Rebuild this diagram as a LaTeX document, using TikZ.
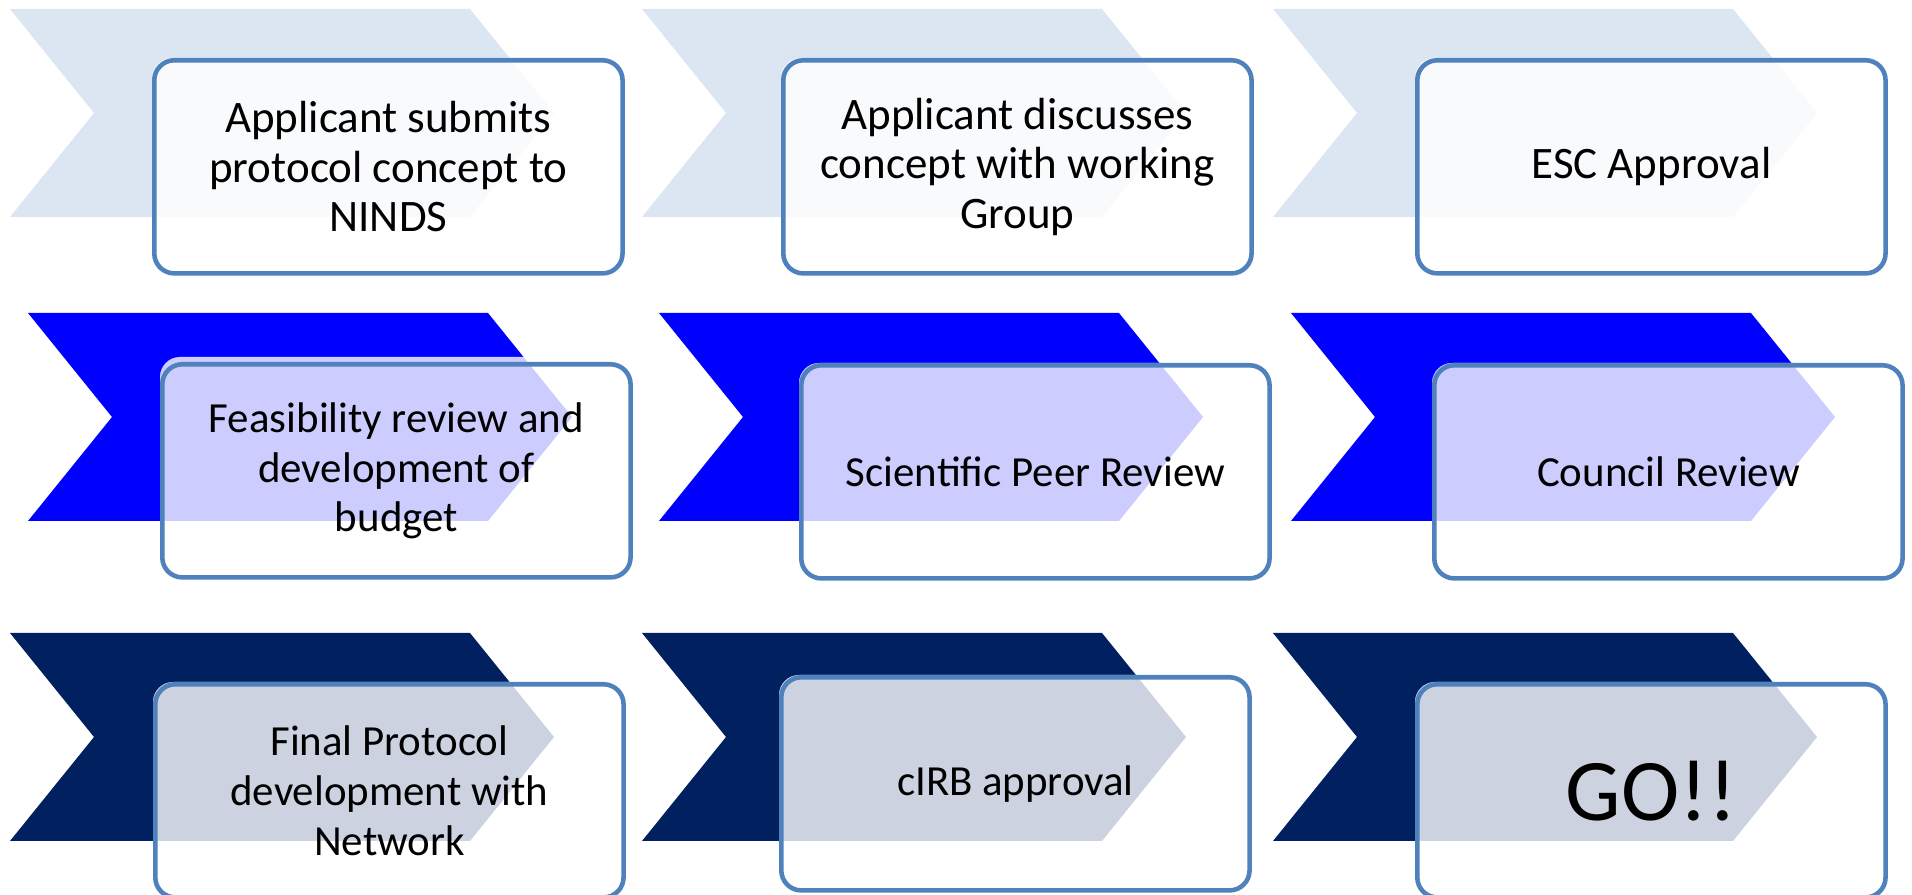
\documentclass[tikz,border=0pt]{standalone}
\usepackage{fontspec}
\setmainfont{Carlito}
\definecolor{chevlight}{HTML}{DCE6F2}
\definecolor{chevblue}{HTML}{0000FF}
\definecolor{chevnavy}{HTML}{002060}
\definecolor{boxline}{HTML}{4F81BD}
\tikzset{
  stepbox/.style={draw=boxline, line width=1.3pt, rounded corners=0.2cm,
    minimum width=4.68cm, minimum height=2.13cm, inner sep=0pt,
    align=center, anchor=north west, font=\fontsize{12.8}{14.1}\selectfont},
  smalltext/.style={font=\fontsize{12.2}{14.2}\selectfont},
  bigtext/.style={font=\fontsize{25}{30}\selectfont}
}
\newcommand{\chevpath}[2]{(#1,#2) -- ++(460,0) -- ++(84,104) -- ++(-84,104) -- ++(-460,0) -- ++(84,-104) -- cycle}
% #1 chev x, #2 chev y, #3 box left, #4 box top, #5 colour, #6 name, #7 text, #8 extra style
\newcommand{\mkcell}[8]{%
  \fill[#5] \chevpath{#1}{#2};
  \fill[white, rounded corners=0.2cm] (#3,#4) rectangle ++(468,213);
  \begin{scope}
    \clip[rounded corners=0.2cm] (#3,#4) rectangle ++(468,213);
    \fill[#5, fill opacity=0.2] \chevpath{#1}{#2};
  \end{scope}
  \node[stepbox, #8] (#6) at (#3,#4) {#7};
}
\begin{document}
\begin{tikzpicture}[x=0.01cm, y=-0.01cm]
\useasboundingbox (0,0) rectangle (1912,895);
\clip (0,0) rectangle (1912,895);
% row 1
\mkcell{10}{9}{152}{58}{chevlight}{a1}{Applicant submits\\protocol concept to\\NINDS}{}
\mkcell{642}{9}{781}{58}{chevlight}{a2}{Applicant discusses\\concept with working\\Group}{}
\mkcell{1273}{9}{1415}{58}{chevlight}{a3}{ESC Approval}{}
% row 2
\mkcell{28}{313}{160}{357}{chevblue}{b1}{Feasibility review and\\development of\\budget}{smalltext, yshift=-0.05cm}
\mkcell{659}{313}{799}{363}{chevblue}{b2}{Scientific Peer Review}{smalltext}
\mkcell{1291}{313}{1432}{363}{chevblue}{b3}{Council Review}{smalltext}
% row 3
\mkcell{10}{633}{153}{682}{chevnavy}{c1}{Final Protocol\\development with\\Network}{smalltext}
\mkcell{642}{633}{779}{675}{chevnavy}{c2}{cIRB approval}{smalltext}
\mkcell{1273}{633}{1415}{682}{chevnavy}{c3}{GO!!}{bigtext}
\end{tikzpicture}
\end{document}
